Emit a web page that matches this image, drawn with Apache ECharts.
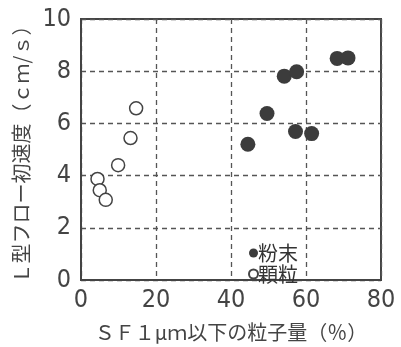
<!DOCTYPE html>
<html><head><meta charset="utf-8">
<script src="https://cdn.jsdelivr.net/npm/echarts@6/dist/echarts.min.js"></script>
<style>html,body{margin:0;padding:0;background:#fff}#c{width:401px;height:347px}</style>
</head><body><div id="c"></div>
<script>
const powderX = [44.5, 49.6, 54.2, 57.5, 57.2, 61.5, 68.3, 71.2];
const powderY = [5.20, 6.38, 7.81, 7.98, 5.69, 5.61, 8.49, 8.51];
const granuleX = [14.7, 13.2, 9.9, 4.4, 5.0, 6.6];
const granuleY = [6.58, 5.44, 4.40, 3.87, 3.44, 3.07];
const xTicks = [0, 20, 40, 60, 80];
const yTicks = [0, 2, 4, 6, 8, 10];
const seriesNames = ['粉末', '顆粒'];
const xTitle = 'ＳＦ１μｍ以下の粒子量（％）';
const yTitle = 'Ｌ型フロー初速度（ｃｍ/ｓ）';

const numFont = "'DejaVu Sans Condensed', 'Liberation Sans Narrow', sans-serif";
const jpFont = "'Noto Sans CJK JP', sans-serif";
const chart = echarts.init(document.getElementById('c'));
const pair = (xs, ys) => xs.map((x, i) => [x, ys[i]]);
chart.setOption({
  backgroundColor: '#fff',
  animation: false,
  grid: { left: 81, right: 20, top: 19, bottom: 57, show: true, borderColor: '#444', borderWidth: 2, backgroundColor: 'transparent' },
  legend: {
    orient: 'vertical', left: 243, top: 238, itemGap: 1,
    itemWidth: 9, itemHeight: 9, icon: 'circle',
    textStyle: { fontFamily: jpFont, fontSize: 20, color: '#333', padding: [0, 0, 0, -5] },
    data: seriesNames
  },
  xAxis: {
    type: 'value', min: 0, max: 80, interval: 20,
    name: xTitle, nameLocation: 'middle', nameGap: 42,
    nameTextStyle: { fontFamily: jpFont, fontSize: 20, color: '#444' },
    axisLine: { lineStyle: { color: '#444', width: 2 } },
    axisTick: { show: false },
    axisLabel: { margin: 8, fontFamily: numFont, fontSize: 25, color: '#444',
      formatter: v => xTicks.includes(v) ? String(v) : '' },
    splitLine: { show: true, lineStyle: { color: '#555', width: 1.3, type: [5, 4] } }
  },
  yAxis: {
    type: 'value', min: 0, max: 10, interval: 2,
    name: yTitle, nameLocation: 'middle', nameGap: 50, nameRotate: 90,
    nameTextStyle: { fontFamily: jpFont, fontSize: 20, color: '#444' },
    axisLine: { show: true, lineStyle: { color: '#444', width: 2 } },
    axisTick: { show: false },
    axisLabel: { margin: 10, fontFamily: numFont, fontSize: 25, color: '#444',
      formatter: v => yTicks.includes(v) ? String(v) : '' },
    splitLine: { show: true, lineStyle: { color: '#555', width: 1.3, type: [5, 4] } }
  },
  series: [
    { name: seriesNames[0], type: 'scatter', symbol: 'circle', symbolSize: 15,
      itemStyle: { color: '#3c3c3c', opacity: 1 },
      data: pair(powderX, powderY) },
    { name: seriesNames[1], type: 'scatter', symbol: 'circle', symbolSize: 13,
      itemStyle: { color: '#fff', borderColor: '#444', borderWidth: 1.5, opacity: 1 },
      data: pair(granuleX, granuleY) }
  ]
});
</script></body></html>
